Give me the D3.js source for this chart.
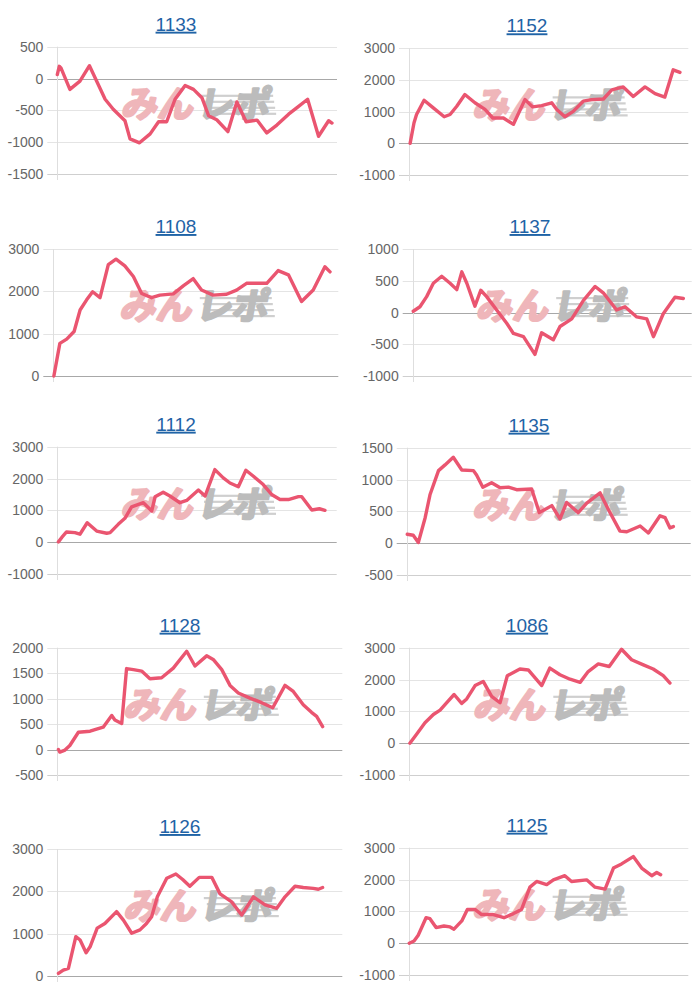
<!DOCTYPE html>
<html><head><meta charset="utf-8">
<script src="https://cdn.jsdelivr.net/npm/d3@7"></script>
<style>
html,body{margin:0;padding:0;background:#fff;}
svg{display:block;}
</style></head>
<body>
<script>
// ---------- DATA ----------
const titles = ["1133","1152","1108","1137","1112","1135","1128","1086","1126","1125"];

const ticks1133 = [500,0,-500,-1000,-1500];
const ticks1152 = [3000,2000,1000,0,-1000];
const ticks1108 = [3000,2000,1000,0];
const ticks1137 = [1000,500,0,-500,-1000];
const ticks1112 = [3000,2000,1000,0,-1000];
const ticks1135 = [1500,1000,500,0,-500];
const ticks1128 = [2000,1500,1000,500,0,-500];
const ticks1086 = [3000,2000,1000,0,-1000];
const ticks1126 = [3000,2000,1000,0];
const ticks1125 = [3000,2000,1000,0,-1000];

// x = progress through the period (0..100), y = balance
const x1133 = [0,0.7,1.3,4.5,8.1,11.5,17.1,20,24.2,26,29.4,33.2,36.2,39.1,42.1,45.7,48.7,51.7,54.1,57,61,64.2,67.5,71.4,74.9,78.5,82.7,85.7,89.5,93.4,97,98.2];
const y1133 = [62,192,166,-171,-41,202,-326,-482,-663,-948,-1010,-870,-679,-679,-326,-109,-171,-301,-585,-648,-834,-368,-679,-653,-855,-731,-560,-456,-326,-907,-663,-700];

const x1152 = [0.4,1.8,2.7,5.4,8.7,12.6,14.7,17.1,20,23.6,27.2,30,33.8,37.4,41.5,44.3,47.5,51.1,52.9,55.8,58.8,62.4,65.4,69.6,72.6,76.7,80.3,84.5,88.1,91.6,94.6,97];
const y1152 = [0,650,910,1360,1120,840,910,1170,1540,1280,1070,800,800,600,1380,1150,1190,1280,1070,840,1010,1330,1380,1400,1690,1780,1480,1780,1570,1460,2320,2240];

const x1108 = [0.2,2.3,4.7,7.3,9.4,11.7,13.8,16.4,19.3,22,25.1,28.1,31,34.5,37.4,42.1,45.6,49.1,52,56.1,60.8,64.3,67.8,74.9,78.9,82.5,87.1,91.2,95.3,97.1];
const y1108 = [0,770,870,1050,1560,1800,1990,1850,2630,2760,2600,2350,1950,1850,1910,1940,2130,2300,2030,1910,1930,2030,2190,2190,2490,2390,1760,2030,2580,2460];

const x1137 = [0.2,2.6,5,7.4,10.4,13.4,15.8,17.6,19.4,22.3,24.4,26.5,30.1,33.7,36.1,39.7,43.8,46.2,50.4,52.8,57,61.2,65.4,68.3,73.1,76.1,80.3,83.9,86.3,89.8,94,97];
const y1137 = [20,90,250,460,570,460,360,640,460,100,350,250,40,-170,-330,-380,-660,-320,-430,-220,-100,190,410,310,40,90,-70,-100,-380,-20,240,220];

const x1112 = [0.4,1.6,3.3,6.3,8.1,10.7,14.1,17.7,18.9,21.8,24.2,26.6,30.8,33.8,35,37.9,40.3,43.9,46.3,50.5,52.9,56.4,59.4,61.8,64.8,67.5,70.2,73.7,76.7,79.7,82.7,86.3,87.5,91.1,93.8,95.8];
const y1112 = [10,150,320,300,250,610,350,280,300,560,750,1110,1240,980,1430,1570,1450,1240,1310,1640,1450,2280,2020,1860,1740,2260,2070,1810,1500,1340,1340,1430,1430,1010,1050,1000];

const x1135 = [0.2,2.3,4.1,6.5,8.2,11.2,13.5,16.4,19.4,23.5,24.6,26.8,29.9,32.9,35.8,38.7,44,46.7,51.1,54,56.3,60.4,63.4,68.1,71,75.1,77.5,82.2,85.1,89.2,91,92.7,93.9];
const y1135 = [140,125,10,400,760,1140,1230,1350,1150,1140,1070,880,950,870,880,840,850,480,590,380,640,480,630,790,530,190,180,270,160,430,400,240,260];

const x1128 = [0.4,0.9,2.7,4.4,7.4,11.5,13.2,16.1,19.1,20.2,22.6,24.3,26.7,29.6,32.5,36.6,40.7,45.4,48.3,52.4,54.7,57.7,60.6,63.5,67.6,71.7,75.6,79.9,82.8,86.3,89.2,91,93.1];
const y1128 = [0,-50,-10,80,340,360,390,440,670,580,510,1590,1570,1540,1390,1410,1600,1930,1640,1840,1770,1570,1260,1110,1010,920,820,1260,1140,880,730,650,450];

const x1086 = [0.2,2.6,5.6,8.6,11,13.3,16,18.7,20.5,23.5,26.4,29.4,32.4,35,39.5,42.5,47.3,50.2,53.8,57.4,61,63.9,67.5,71.4,75.8,79.4,83.6,87.1,90.7,93.1];
const y1086 = [0,280,640,900,1040,1270,1530,1250,1390,1810,1940,1470,1270,2120,2330,2300,1810,2360,2150,2010,1910,2250,2490,2410,2950,2620,2460,2330,2120,1890];

const x1126 = [0.4,2.1,3.9,6.5,8,10.1,11.5,14,16.7,20.8,23.2,26.1,29,31.3,33.1,35.1,38.4,41.6,44,46.5,49.8,54.2,57.1,61.2,64.7,68.8,72.9,77,79.9,83.4,86.3,89.8,91.6,93.1];
const y1126 = [60,140,180,930,850,550,690,1130,1240,1520,1320,1010,1090,1240,1400,1870,2310,2410,2280,2120,2330,2330,1940,1750,1440,1870,1680,1600,1870,2120,2090,2070,2050,2090];

const x1125 = [0.1,1.8,3.3,6.1,7.5,9.7,12.5,14.7,16.1,18.9,20.9,23.6,26,30.2,34,37.4,40.3,43.3,45.7,49.3,51.7,55.8,58.2,63.6,66.6,70.2,73.2,76.1,80.3,83.3,86.9,88.7,90.1];
const y1125 = [0,70,250,800,770,490,540,510,440,700,1060,1060,900,900,800,930,1060,1760,1940,1840,1990,2120,1940,1990,1760,1700,2360,2490,2720,2360,2120,2220,2150];

const seriesX = [x1133,x1152,x1108,x1137,x1112,x1135,x1128,x1086,x1126,x1125];
const seriesY = [y1133,y1152,y1108,y1137,y1112,y1135,y1128,y1086,y1126,y1125];
const seriesTicks = [ticks1133,ticks1152,ticks1108,ticks1137,ticks1112,ticks1135,ticks1128,ticks1086,ticks1126,ticks1125];

// ---------- LAYOUT (plot boxes) ----------
const layout = [
  {L:57.3, R:337,   T:46.7,  B:174,  tx:176},
  {L:409,  R:688.3, T:48.3,  B:175,  tx:527},
  {L:53.3, R:338.3, T:249,   B:376,  tx:176},
  {L:412.7,R:691.7, T:249,   B:376,  tx:530},
  {L:57.3, R:336.7, T:446.7, B:574,  tx:176},
  {L:406.7,R:690.7, T:447.7, B:575,  tx:529},
  {L:57.3, R:342.3, T:647.7, B:775,  tx:180},
  {L:409.3,R:689.3, T:647.7, B:775,  tx:527},
  {L:57.3, R:342.3, T:849,   B:976,  tx:180},
  {L:409,  R:688.3, T:847.7, B:975,  tx:527}
];

const svg = d3.select("body").append("svg").attr("width",700).attr("height",1000);

titles.forEach((t,i)=>{
  const lay = layout[i];
  const ticks = seriesTicks[i];
  const g = svg.append("g");
  const x = d3.scaleLinear().domain([0,100]).range([lay.L, lay.R]);
  const y = d3.scaleLinear().domain([d3.min(ticks), d3.max(ticks)]).range([lay.B, lay.T]);

  // grid + tick marks
  g.selectAll("line.grid").data(ticks).join("line")
    .attr("x1", lay.L-10).attr("x2", lay.R)
    .attr("y1", d=>Math.round(y(d))+0.5).attr("y2", d=>Math.round(y(d))+0.5)
    .attr("stroke", d=> d===0 ? "#a8a8a8" : (d===d3.min(ticks) ? "#cfcfcf" : "#e4e4e4"))
    .attr("stroke-width",1);
  // vertical axis line
  g.append("line").attr("x1",Math.round(lay.L)+0.5).attr("x2",Math.round(lay.L)+0.5)
    .attr("y1",lay.T).attr("y2",lay.B+6).attr("stroke","#dedede");

  // tick labels
  g.selectAll("text.tick").data(ticks).join("text")
    .attr("x", lay.L-14).attr("y", d=>y(d)+5)
    .attr("text-anchor","end")
    .attr("font-family","'Liberation Sans', Arial, sans-serif")
    .attr("font-size",14).attr("fill","#666")
    .text(d=>d);

  // watermark
  const cx = (lay.L+lay.R)/2 - 4, cy = lay.T + 56;
  const wm = g.append("g").attr("transform",`translate(${cx},${cy})`);
  // speed lines behind gray part
  [-8,-2,4,10].forEach((dy,k)=>{
    wm.append("rect").attr("x",8 + k*3).attr("y",dy).attr("width",72 - k*2).attr("height",2.2)
      .attr("fill","#cfcfcf");
  });
  wm.append("text").attr("x",2).attr("y",14).attr("text-anchor","end")
    .attr("font-family","'Noto Sans CJK JP', sans-serif").attr("font-weight",700)
    .attr("font-size",36)
    .attr("transform","skewX(-10)")
    .attr("fill","#efb6ba").attr("stroke","#efb6ba").attr("stroke-width",2.5)
    .attr("stroke-linejoin","round")
    .text("みん");
  wm.append("text").attr("x",6).attr("y",14).attr("text-anchor","start")
    .attr("font-family","'Noto Sans CJK JP', sans-serif").attr("font-weight",700)
    .attr("font-size",36)
    .attr("transform","skewX(-10)")
    .attr("fill","#bcbcbc").attr("stroke","#bcbcbc").attr("stroke-width",2.5)
    .attr("stroke-linejoin","round")
    .text("レポ");

  // line
  const pts = seriesX[i].map((xv,k)=>[xv, seriesY[i][k]]);
  g.append("path").datum(pts)
    .attr("d", d3.line().x(d=>x(d[0])).y(d=>y(d[1])))
    .attr("fill","none").attr("stroke","#ea5570").attr("stroke-width",3.4)
    .attr("stroke-linejoin","round").attr("stroke-linecap","round");

  // title (underlined link style)
  g.append("text").attr("x",lay.tx).attr("y",lay.T-16)
    .attr("text-anchor","middle")
    .attr("font-family","'Liberation Sans', Arial, sans-serif")
    .attr("font-size",19).attr("fill","#1f63a6")
    .attr("text-decoration","underline")
    .text(t);
});
</script>
</body></html>
